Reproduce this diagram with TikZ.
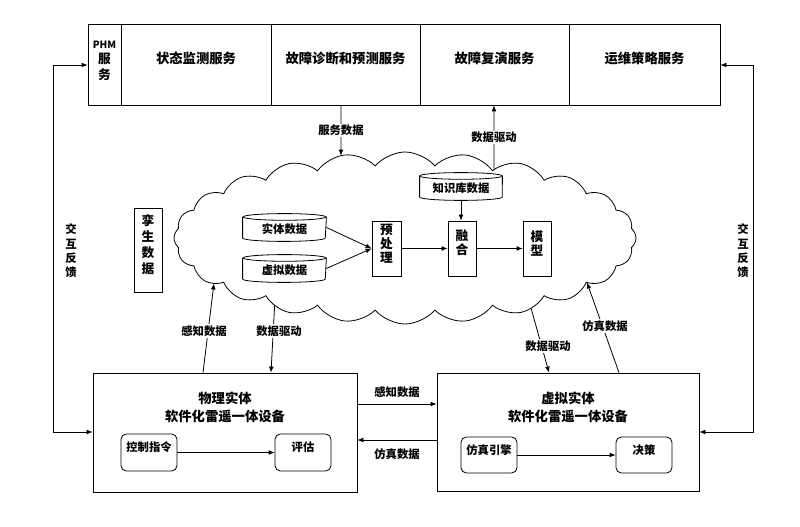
\documentclass[tikz,border=0pt]{standalone}
\usepackage{fontspec}
\setmainfont{Noto Sans CJK SC}
\usetikzlibrary{shapes.symbols,arrows.meta,fit,calc,intersections}
\newcommand\drawcyl[1]{%
  \draw[fill=white] ([yshift=-2.5pt]#1.north west) -- ([yshift=2.5pt]#1.south west)
    arc[start angle=180,end angle=360,x radius=31pt,y radius=2.5pt]
    -- ([yshift=-2.5pt]#1.north east);
  \draw ([yshift=-2.5pt]#1.north) ellipse[x radius=31pt,y radius=2.5pt];
  \node[cyltext] at ([yshift=-1pt]#1.center) {\csname cyltxt#1\endcsname};
}
\begin{document}
\begin{tikzpicture}[x=0.75pt,y=-0.75pt,line width=0.6pt,
  cell/.style={draw,inner sep=0pt,align=center,font=\bfseries\fontsize{10}{12}\selectfont},
  vcell/.style={draw,inner sep=0pt,align=center,font=\bfseries\fontsize{9.5}{10.5}\selectfont},
  rbox/.style={draw,rounded corners=4pt,inner sep=0pt,align=center,font=\bfseries\fontsize{8.5}{10}\selectfont},
  cyltext/.style={inner sep=0pt,font=\bfseries\fontsize{8.5}{10}\selectfont},
  lbl/.style={fill=white,inner sep=1pt,font=\bfseries\fontsize{8.5}{10}\selectfont},
  vlbl/.style={inner sep=0pt,align=center,font=\bfseries\fontsize{8.5}{10.7}\selectfont},
  arr/.style={-{Latex[length=4.5pt,width=3.6pt]}},
  dbl/.style={{Latex[length=4.5pt,width=3.6pt]}-{Latex[length=4.5pt,width=3.6pt]}}]
\useasboundingbox (0,0) rectangle (800,527);
\fill[white] (0,0) rectangle (800,527);

% top service bar
\node[cell,fit={(88,24) (121,105)},font=\bfseries\fontsize{9.5}{11.6}\selectfont] (phm) {{\fontsize{7.5}{8}\selectfont PHM}\\服\\务};
\node[cell,fit={(121,24) (271,105)}] (mon) {状态监测服务};
\node[cell,fit={(271,24) (420,105)}] (diag) {故障诊断和预测服务};
\node[cell,fit={(420,24) (569,105)}] (rep) {故障复演服务};
\node[cell,fit={(569,24) (720,105)}] (ops) {运维策略服务};

% cloud
\node[cloud,draw,cloud puffs=24,cloud puff arc=100,aspect=2.8,name path=cloudp,
  minimum width=462*0.75pt,minimum height=172*0.75pt,inner sep=0pt] (cloud) at (405,238) {};

% twin data
\node[vcell,fit={(134,208) (162,292)},font=\bfseries\fontsize{9.5}{12}\selectfont] (twin) {孪\\生\\数\\据};

% data cylinders
\def\cyltxtent{实体数据}
\def\cyltxtvir{虚拟数据}
\def\cyltxtkb{知识库数据}
\node[inner sep=0pt,fit={(243,214) (326,241)}] (ent) {};
\node[inner sep=0pt,fit={(243,255) (326,282)}] (vir) {};
\node[inner sep=0pt,fit={(420,173) (502,200)}] (kb) {};
\drawcyl{ent}
\drawcyl{vir}
\drawcyl{kb}

\node[vcell,fit={(372,221) (401,276)}] (pre) {预\\处\\理};
\node[vcell,fit={(448,221) (476,276)}] (fus) {融\\合};
\node[vcell,fit={(523,221) (551,276)}] (mod) {模\\型};

\draw[arr] (ent.east) -- (pre.west);
\draw[arr] (vir.east) -- (pre.west);
\draw[arr] (pre) -- (fus);
\draw[arr] (fus) -- (mod);
\draw[arr] (kb.south) -- (kb.south |- fus.north);

% bottom boxes
\node[draw,inner sep=0pt,fit={(93,373) (357,492)}] (phys) {};
\node[cell,draw=none,font=\bfseries\fontsize{10}{13.5}\selectfont] (ptitle) at (225,407) {物理实体\\软件化雷遥一体设备};
\node[rbox,fit={(121,434) (177,471)}] (ctrl) {控制指令};
\node[rbox,fit={(275,434) (331,471)}] (eval) {评估};
\draw[arr] (ctrl) -- (eval);

\node[draw,inner sep=0pt,fit={(437,373) (699,491)}] (virt) {};
\node[cell,draw=none,font=\bfseries\fontsize{10}{13.5}\selectfont] (vtitle) at (568,407) {虚拟实体\\软件化雷遥一体设备};
\node[rbox,fit={(461,437) (517,473)}] (eng) {仿真引擎};
\node[rbox,fit={(616,437) (672,473)}] (dec) {决策};
\draw[arr] (eng) -- (dec);

% coordinates
\coordinate (ySense) at (0,404);
\coordinate (ySim) at (0,440);
\coordinate (yT) at (0,65);
\coordinate (yB) at (0,432);
\coordinate (xL) at (53,0);
\coordinate (xR) at (753,0);
\coordinate (xA) at (341,0);
\coordinate (xB) at (494,0);
\coordinate (x1) at (203,0);
\coordinate (x2) at (271,0);
\coordinate (x3) at (549,0);
\coordinate (x4) at (619,0);

% cloud touch points
\path[name path=pA] (341,105) -- (341,200);
\path[name path=pB] (494,200) -- (494,105);
\path[name path=p1] (203,373) -- (215,275);
\path[name path=p2] (276,280) -- (271,373);
\path[name path=p3] (526,290) -- (549,373);
\path[name path=p4] (619,373) -- (579,260);
\path[name intersections={of=cloudp and pA,sort by=pA,by={cA}}];
\path[name intersections={of=cloudp and pB,sort by=pB,by={cB}}];
\path[name intersections={of=cloudp and p1,sort by=p1,by={c1}}];
\path[name intersections={of=cloudp and p2,sort by=p2,by={c2}}];
\path[name intersections={of=cloudp and p3,sort by=p3,by={c3}}];
\path[name intersections={of=cloudp and p4,sort by=p4,by={c4}}];

% between boxes
\draw[arr] (ySense -| phys.east) -- (ySense -| virt.west) node[lbl,at={(397,392)}] (l1) {感知数据};
\draw[arr] (ySim -| virt.west) -- (ySim -| phys.east) node[lbl,at={(397,454)}] (l2) {仿真数据};

% bar <-> cloud
\draw[arr] (xA |- diag.south) -- (cA) node[lbl,midway] (l3) {服务数据};
\draw[arr] (cB) -- (xB |- rep.south) node[lbl,midway] (l4) {数据驱动};

% boxes <-> cloud
\draw[arr] (x1 |- phys.north) -- (c1) node[lbl,at={(204,331)}] (l5) {感知数据};
\draw[arr] (c2) -- (x2 |- phys.north) node[lbl,at={(279,331)}] (l6) {数据驱动};
\draw[arr] (c3) -- (x3 |- virt.north) node[lbl,at={(548,346)}] (l7) {数据驱动};
\draw[arr] (x4 |- virt.north) -- (c4) node[lbl,at={(605,326)}] (l8) {仿真数据};

% interaction feedback
\draw[dbl] (yT -| phm.west) -- (yT -| xL) -- (yB -| xL) -- (yB -| phys.west);
\draw[dbl] (yT -| ops.east) -- (yT -| xR) -- (yB -| xR) -- (yB -| virt.east);
\node[vlbl] (fbL) at (71,251) {交\\互\\反\\馈};
\node[vlbl] (fbR) at (743,251) {交\\互\\反\\馈};
\end{tikzpicture}
\end{document}
